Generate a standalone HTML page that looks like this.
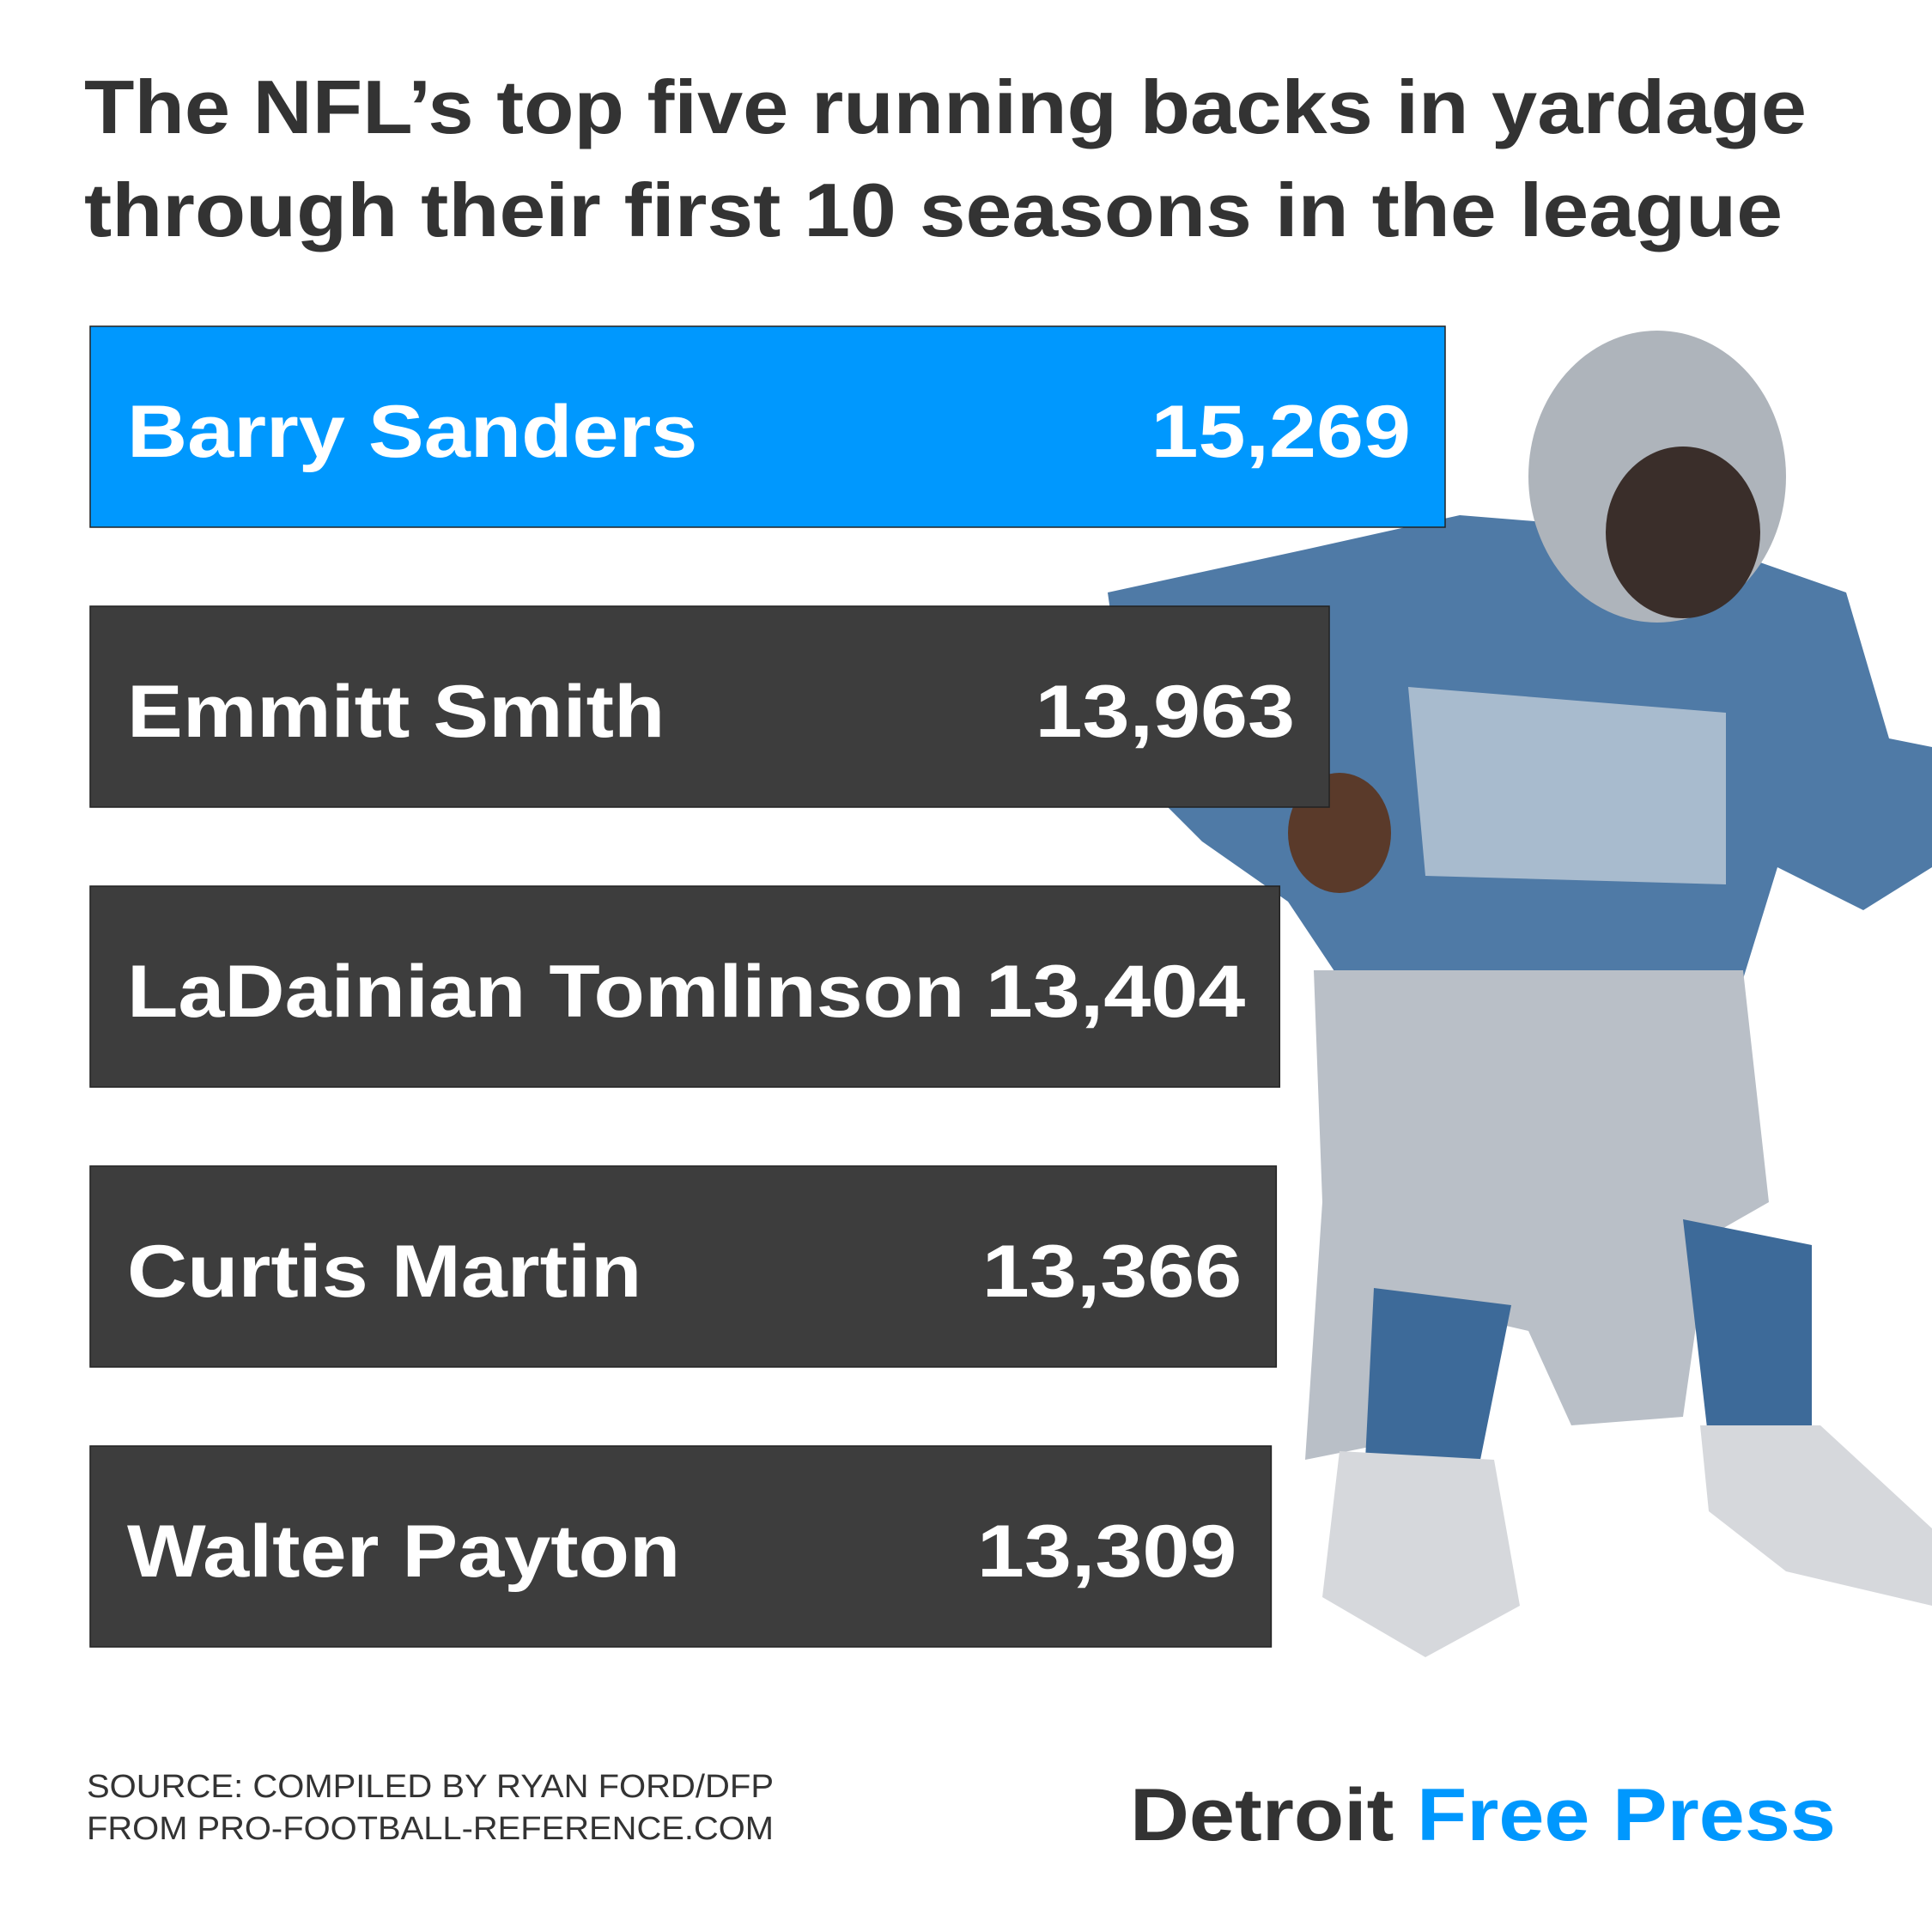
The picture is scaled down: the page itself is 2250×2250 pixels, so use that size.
<!DOCTYPE html>
<html><head><meta charset="utf-8"><style>
html,body{margin:0;padding:0;background:#fff;}
svg{display:block;}
text{font-family:"Liberation Sans",sans-serif;font-weight:bold;}
</style></head><body>
<svg id="chart" width="2250" height="2250" viewBox="0 0 2250 2250" xmlns="http://www.w3.org/2000/svg">
<rect width="2250" height="2250" fill="#fff"/>
<g>
  <polygon points="1290,690 1520,640 1700,600 1950,620 2150,690 2200,860 2250,870 2250,1010 2170,1060 2070,1010 2030,1140 1560,1140 1500,1050 1400,980 1320,900" fill="#4f7aa6"/>
  <polygon points="1530,1130 2030,1130 2060,1400 1990,1440 1960,1650 1830,1660 1780,1550 1650,1520 1620,1680 1520,1700 1540,1400" fill="#b9bfc7"/>
  <polygon points="1600,1500 1760,1520 1720,1720 1590,1700" fill="#3d6a99"/>
  <polygon points="1960,1420 2110,1450 2110,1670 1990,1680" fill="#3d6a99"/>
  <polygon points="1560,1690 1740,1700 1770,1870 1660,1930 1540,1860" fill="#d6d8dc"/>
  <polygon points="1980,1660 2120,1660 2250,1780 2250,1870 2080,1830 1990,1760" fill="#d6d8dc"/>
  <polygon points="1640,800 2010,830 2010,1030 1660,1020" fill="#e4e6ea" opacity="0.6"/>
  <ellipse cx="1930" cy="555" rx="150" ry="170" fill="#aeb4bb"/>
  <ellipse cx="1960" cy="620" rx="90" ry="100" fill="#3a2e2a"/>
  <ellipse cx="1560" cy="970" rx="60" ry="70" fill="#5a3a2a"/>
</g>
<g fill="#333333">
  <text x="98" y="155" font-size="88" textLength="2006" lengthAdjust="spacingAndGlyphs">The NFL’s top five running backs in yardage</text>
  <text x="98" y="275" font-size="88" textLength="1978" lengthAdjust="spacingAndGlyphs">through their first 10 seasons in the league</text>
</g>
<g id="bars"></g>
<g>
  <text x="101" y="2093" font-size="38" style="font-weight:normal" fill="#333" textLength="800" lengthAdjust="spacingAndGlyphs">SOURCE: COMPILED BY RYAN FORD/DFP</text>
  <text x="101" y="2142" font-size="38" style="font-weight:normal" fill="#333" textLength="800" lengthAdjust="spacingAndGlyphs">FROM PRO-FOOTBALL-REFERENCE.COM</text>
  <text x="1316" y="2143" font-size="86" textLength="822" lengthAdjust="spacingAndGlyphs"><tspan fill="#333">Detroit </tspan><tspan fill="#0098fe">Free Press</tspan></text>
</g>
</svg>
<script>
const names = ["Barry Sanders","Emmitt Smith","LaDainian Tomlinson","Curtis Martin","Walter Payton"];
const yards = [15269,13963,13404,13366,13309];
const labels = ["15,269","13,963","13,404","13,366","13,309"];
const highlight = [true,false,false,false,false];
const x0 = 105, top0 = 380, step = 326, barH = 234;
function xScale(v){ return v * (1578/15269); }
const g = document.getElementById('bars');
const NS = "http://www.w3.org/2000/svg";
function widen(t, f){
  const L = t.getComputedTextLength();
  t.setAttribute('textLength', L*f);
  t.setAttribute('lengthAdjust','spacingAndGlyphs');
}
names.forEach((n,i)=>{
  const y = top0 + i*step;
  const w = xScale(yards[i]);
  const r = document.createElementNS(NS,'rect');
  r.setAttribute('x',x0); r.setAttribute('y',y);
  r.setAttribute('width',w); r.setAttribute('height',barH);
  r.setAttribute('fill', highlight[i] ? '#0098fe' : '#3d3d3d');
  r.setAttribute('stroke','#222'); r.setAttribute('stroke-width','1.5');
  
  
  g.appendChild(r);
  const t = document.createElementNS(NS,'text');
  t.setAttribute('x',148); t.setAttribute('y',y+152);
  t.setAttribute('font-size','86'); t.setAttribute('fill','#fff');
  t.textContent = n;
  
  
  g.appendChild(t);
  widen(t, 1.13);
  const v = document.createElementNS(NS,'text');
  v.setAttribute('x',x0+w-40); v.setAttribute('y',y+152);
  v.setAttribute('font-size','86'); v.setAttribute('fill','#fff');
  v.setAttribute('text-anchor','end');
  v.textContent = labels[i];
  
  
  g.appendChild(v);
  widen(v, 1.15);
});
</script>
</body></html>
